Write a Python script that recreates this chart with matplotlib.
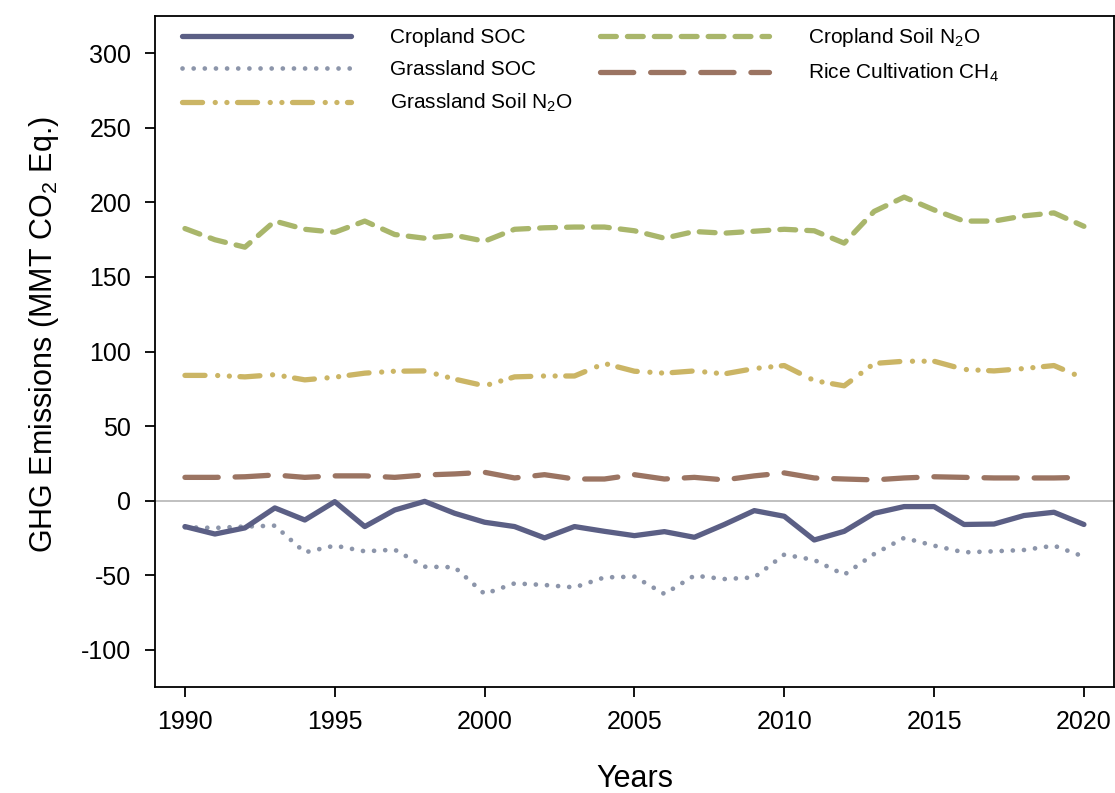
import matplotlib
matplotlib.use("Agg")
import matplotlib.pyplot as plt

plt.rcParams['font.family'] = ['Liberation Sans', 'DejaVu Sans']
plt.rcParams['mathtext.fontset'] = 'custom'
plt.rcParams['mathtext.rm'] = 'Liberation Sans'
plt.rcParams['mathtext.default'] = 'regular'
plt.rcParams['axes.unicode_minus'] = False

# data (MMT CO2 Eq.)
years = list(range(1990, 2021))
cropland_soc = [-17.4, -22.4, -18.3, -4.9, -13.0, -0.7, -17.4, -6.3, -0.5, -8.5,
                -14.5, -17.4, -25.0, -17.4, -20.6, -23.5, -20.8, -24.6, -16.0, -6.7,
                -10.5, -26.4, -20.6, -8.5, -4.0, -4.0, -16.0, -15.7, -10.0, -7.8, -16.0]
grassland_soc = [-17.9, -18.3, -17.4, -16.8, -34.7, -30.2, -34.0, -32.9, -44.3, -44.7,
                 -62.6, -55.5, -56.6, -58.2, -51.5, -51.0, -62.6, -50.3, -52.6, -51.5,
                 -36.2, -39.8, -49.7, -35.8, -25.0, -30.2, -34.7, -34.0, -33.1, -30.2, -37.6]
grassland_n2o = [84, 84, 83, 84.5, 81, 82.8, 85.5, 86.8, 87, 81.5,
                 77, 83, 83.6, 83.6, 92, 86.8, 85.5, 87, 85, 88.6,
                 90.6, 80.5, 77, 92, 93.5, 93.5, 88, 87, 88.6, 90.6, 82]
cropland_n2o = [182.5, 175, 170, 187.5, 182, 180, 187.5, 178.5, 176, 178,
                174, 182, 183, 183.5, 183.5, 181, 176, 180.5, 179.4, 180.7,
                182, 181, 172.7, 194, 203.6, 195, 187.5, 187.5, 191, 193, 184]
rice_ch4 = [15.6, 15.6, 16, 17.2, 15.6, 16.6, 16.6, 15.6, 17.2, 17.9,
            19, 15.2, 17.4, 14.5, 14.5, 17.4, 14.5, 15.6, 13.9, 16.6,
            18.6, 15.2, 14.5, 13.9, 15.2, 16, 15.6, 15.2, 15.2, 15.2, 15.6]

fig = plt.figure(figsize=(11.15, 7.93), dpi=100)
ax = fig.add_axes([0.139, 0.1337, 0.860, 0.846])

ax.axhline(0, color='#b5b5b5', lw=1.2, zorder=1)

ax.plot(years, cropland_soc, color='#5b5f85', lw=3.8, solid_capstyle='round',
        solid_joinstyle='round', label='Cropland SOC', zorder=3)
ax.plot(years, grassland_soc, color='#8c95aa', lw=3.4, ls=(0, (0.01, 2.35)),
        dash_capstyle='round', label='Grassland SOC', zorder=2)
ax.plot(years, grassland_n2o, color='#cbb565', lw=3.8,
        ls=(0, (3.8, 2.4, 0.01, 2.2, 0.01, 2.0)), dash_capstyle='round',
        label='Grassland Soil N$_2$O', zorder=2)
ax.plot(years, cropland_n2o, color='#a9b66b', lw=3.8, ls=(0, (3.0, 2.1)),
        dash_capstyle='round', label='Cropland Soil N$_2$O', zorder=2)
ax.plot(years, rice_ch4, color='#9b7462', lw=3.8, ls=(0, (6.3, 3.2)),
        dash_capstyle='round', label='Rice Cultivation CH$_4$', zorder=2)

ax.set_xlim(1989, 2021)
ax.set_ylim(-125, 325)
ax.set_xticks(range(1990, 2021, 5))
ax.set_yticks(range(-100, 301, 50))

for side in ['top', 'right', 'left', 'bottom']:
    ax.spines[side].set_linewidth(1.3)
ax.tick_params(direction='out', length=7, width=1.3, labelsize=18)
ax.tick_params(axis='y', pad=10)
ax.tick_params(axis='x', pad=9.5)

ax.set_xlabel('Years', fontsize=22, labelpad=22)
ax.set_ylabel('GHG Emissions (MMT CO$_2$ Eq.)', fontsize=22, labelpad=14)
ax.yaxis.set_label_coords(-0.098, 0.525)

ax.legend(loc='upper left', bbox_to_anchor=(0.028, 0.985), ncol=2, frameon=False,
          fontsize=15, handlelength=8.1, handletextpad=1.9, columnspacing=1.3,
          labelspacing=0.62, borderpad=0, borderaxespad=0)

plt.savefig('out.png', dpi=100)
